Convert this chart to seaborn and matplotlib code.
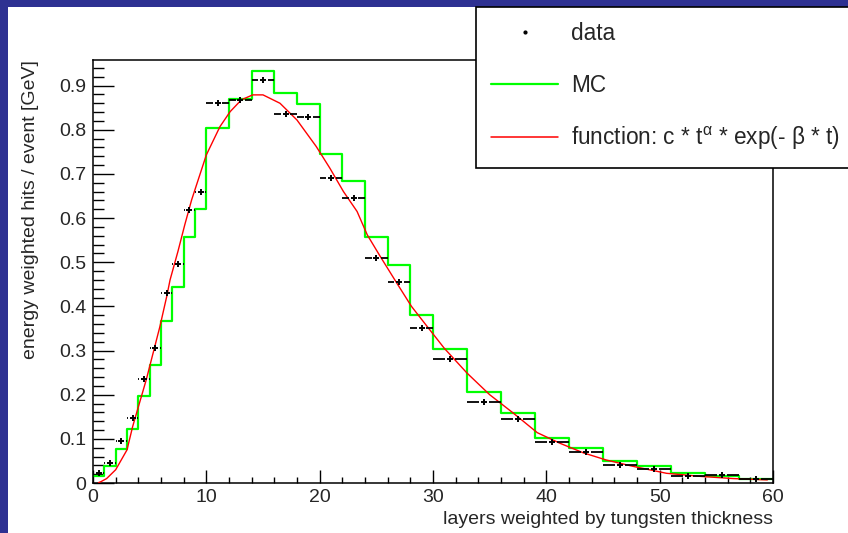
import matplotlib
matplotlib.use("Agg")
import matplotlib.pyplot as plt
from matplotlib.lines import Line2D
from matplotlib.patches import Rectangle
from matplotlib.ticker import MultipleLocator, FixedLocator, FuncFormatter
import numpy as np
import pandas as pd
import seaborn as sns

# variable binning: 1 layer wide up to 10, 2 up to 30, 3 up to 60
edges = [0, 1, 2, 3, 4, 5, 6, 7, 8, 9, 10,
         12, 14, 16, 18, 20, 22, 24, 26, 28, 30,
         33, 36, 39, 42, 45, 48, 51, 54, 57, 60]

mc = [0.016, 0.039, 0.078, 0.123, 0.197, 0.268, 0.367, 0.445, 0.558, 0.620,
      0.803, 0.870, 0.932, 0.884, 0.858, 0.745, 0.684, 0.558, 0.494, 0.380,
      0.303, 0.206, 0.158, 0.103, 0.080, 0.050, 0.039, 0.022, 0.015, 0.010]

data = [0.022, 0.045, 0.096, 0.148, 0.236, 0.305, 0.430, 0.496, 0.619, 0.660,
        0.860, 0.868, 0.913, 0.836, 0.828, 0.690, 0.646, 0.509, 0.455, 0.351,
        0.281, 0.183, 0.145, 0.092, 0.071, 0.041, 0.031, 0.016, 0.018, 0.010]

# fitted curve
fit_t = [0.5, 0.7, 1.2, 2.0, 3.0, 3.5, 4.1, 4.7, 5.3, 5.9, 6.5, 6.8, 7.5, 8.1,
         8.7, 10.0, 11.2, 12.1, 13.1, 14.1, 15.0, 16.5, 18.0, 19.7, 20.9,
         22.1, 23.3, 24.2, 25.3, 26.8, 28.1, 29.5, 31.0, 33.0, 35.0, 37.1,
         39.2, 41.2, 43.3, 45.3, 47.6, 50.6, 53.6, 56.5, 59.5]
fit_y = [0.001, 0.003, 0.010, 0.030, 0.075, 0.128, 0.181, 0.234, 0.294, 0.354,
         0.422, 0.460, 0.525, 0.585, 0.641, 0.743, 0.807, 0.841, 0.868, 0.879,
         0.879, 0.860, 0.822, 0.762, 0.713, 0.660, 0.615, 0.562, 0.515, 0.453,
         0.400, 0.354, 0.305, 0.249, 0.200, 0.158, 0.114, 0.090, 0.068, 0.052,
         0.038, 0.022, 0.015, 0.010, 0.007]

xticks = [0, 10, 20, 30, 40, 50, 60]
yticks = [0, 0.1, 0.2, 0.3, 0.4, 0.5, 0.6, 0.7, 0.8, 0.9]

sns.set_style("ticks")
plt.rcParams['font.family'] = ['Liberation Sans', 'DejaVu Sans']
plt.rcParams['mathtext.fontset'] = 'custom'
plt.rcParams['mathtext.rm'] = 'Liberation Sans'

slide_blue = '#2e3192'

fig = plt.figure(figsize=(8.48, 5.33), dpi=100, facecolor=slide_blue)
fig.add_artist(Rectangle((8 / 848, 0), 1, 1 - 7 / 533, transform=fig.transFigure,
                         facecolor='white', edgecolor='none', zorder=-5))
ax = fig.add_axes([93 / 848, 1 - 483 / 533, 680 / 848, 423 / 533])
ax.set_facecolor('white')

e = np.array(edges, dtype=float)
centers = (e[:-1] + e[1:]) / 2
df = pd.DataFrame({'t': centers, 'mc': mc, 'data': data,
                   'lo': e[:-1], 'hi': e[1:]})

sns.histplot(data=df, x='t', weights='mc', bins=edges, element='step',
             fill=False, color='#00ff00', linewidth=1.6, ax=ax, zorder=2)
sns.lineplot(x=fit_t, y=fit_y, color='red', linewidth=1.0, ax=ax, zorder=3)

# horizontal bin-width bars with a gap around the marker (ROOT style)
gap = 0.4
ax.hlines(df['data'], df['lo'], np.maximum(df['t'] - gap, df['lo']),
          color='black', linewidth=1.3, zorder=4)
ax.hlines(df['data'], np.minimum(df['t'] + gap, df['hi']), df['hi'],
          color='black', linewidth=1.3, zorder=4)
sns.scatterplot(data=df, x='t', y='data', marker='+', s=24, color='black',
                linewidth=1.4, ax=ax, zorder=5, legend=False)

ax.set_xlim(0, 60)
ax.set_ylim(0, 0.958)
ax.xaxis.set_major_locator(FixedLocator(xticks))
ax.xaxis.set_minor_locator(MultipleLocator(2))
ax.yaxis.set_major_locator(FixedLocator(yticks))
ax.yaxis.set_minor_locator(MultipleLocator(0.02))
ax.yaxis.set_major_formatter(FuncFormatter(lambda v, p: f"{v:g}"))
ax.tick_params(axis='x', which='major', direction='in', length=9.5, width=1,
               labelsize=14, pad=4, color='black')
ax.tick_params(axis='x', which='minor', direction='in', length=4.5, width=1,
               color='black')
ax.tick_params(axis='y', which='major', direction='in', length=15, width=1,
               labelsize=14, pad=5, color='black')
ax.tick_params(axis='y', which='minor', direction='in', length=8, width=1,
               color='black')
for s in ax.spines.values():
    s.set_visible(True)
    s.set_color('black')
    s.set_linewidth(1.1)

ax.set_xlabel('layers weighted by tungsten thickness', fontsize=14, loc='right')
ax.xaxis.set_label_coords(1.0, -0.067)
ax.set_ylabel('energy weighted hits / event [GeV]', fontsize=14, loc='top')
ax.yaxis.set_label_coords(-0.080, 1.0)

handles = [Line2D([], [], color='black', marker='.', markersize=4, linestyle='none'),
           Line2D([], [], color='#00ff00', linewidth=1.6),
           Line2D([], [], color='red', linewidth=1.1)]
labels = ['data', 'MC', r'function: c * t$^{\mathrm{α}}$ * exp(- β * t)']
leg = fig.legend(handles, labels, loc='upper left',
                 bbox_to_anchor=(476 / 848, 1 - 165 / 533, 0.6, 158 / 533),
                 mode='expand', borderaxespad=0, fontsize=16.3, frameon=True,
                 fancybox=False, shadow=False, framealpha=1, edgecolor='black',
                 handlelength=2.95, handletextpad=0.58, labelspacing=1.25,
                 borderpad=0.68)
leg.get_frame().set_linewidth(1.2)

fig.savefig('out.png', dpi=100, facecolor=fig.get_facecolor())
